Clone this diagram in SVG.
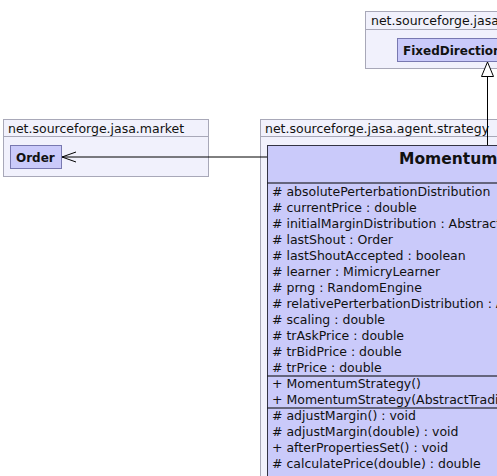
<svg xmlns="http://www.w3.org/2000/svg" width="497" height="476" viewBox="0 0 497 476">
<defs>
<style>
.pkg{fill:#F1F1FC;stroke:#A8A8B8;stroke-width:1}
.cls{fill:#CACAFA;stroke:#7878B0;stroke-width:1}
.main{fill:#CACAFA;stroke:#333344;stroke-width:1}
.div{stroke:#000;stroke-width:1.2}
text{font-family:"DejaVu Sans",sans-serif;fill:#111}
.lbl{font-size:12.5px}
.name{font-size:12px;font-weight:bold}
.big{font-size:15.5px;font-weight:bold}
.m{font-size:12.5px}
.edge{stroke:#000;stroke-width:1;fill:none}
</style>
</defs>
<g id="pkg-top">
<rect class="pkg" x="365.5" y="11.5" width="200" height="57"/>
<line x1="365.5" y1="29.5" x2="565.5" y2="29.5" stroke="#A8A8B8"/>
<text class="lbl" x="371" y="25">net.sourceforge.jasa.agent</text>
</g>
<g id="FixedDirection">
<rect class="cls" x="397.5" y="38.5" width="160" height="23"/>
<text class="name" x="403" y="54.5">FixedDirectionStrategy</text>
</g>
<g id="pkg-market">
<rect class="pkg" x="3.5" y="119.5" width="205" height="57"/>
<line x1="3.5" y1="136.5" x2="208.5" y2="136.5" stroke="#A8A8B8"/>
<text class="lbl" x="8" y="132.5">net.sourceforge.jasa.market</text>
</g>
<g id="Order">
<rect class="cls" x="10.5" y="145.5" width="51" height="23"/>
<text class="name" x="16" y="161.5">Order</text>
</g>
<g id="pkg-strategy">
<rect class="pkg" x="260.5" y="119.5" width="400" height="400"/>
<line x1="260.5" y1="136.5" x2="660.5" y2="136.5" stroke="#A8A8B8"/>
<text class="lbl" x="265" y="132.5">net.sourceforge.jasa.agent.strategy</text>
</g>
<g id="MomentumStrategy">
<rect class="main" x="267.5" y="145.5" width="400" height="400"/>
<text class="big" x="399" y="164">MomentumStrategy</text>
<line class="div" x1="267.5" y1="183" x2="667.5" y2="183"/>
<text class="m" x="272" y="196">#  absolutePerterbationDistribution</text>
<text class="m" x="272" y="212"># currentPrice : double</text>
<text class="m" x="272" y="228"># initialMarginDistribution : AbstractC</text>
<text class="m" x="272" y="244"># lastShout : Order</text>
<text class="m" x="272" y="260"># lastShoutAccepted : boolean</text>
<text class="m" x="272" y="276"># learner : MimicryLearner</text>
<text class="m" x="272" y="292"># prng : RandomEngine</text>
<text class="m" x="272" y="308"># relativePerterbationDistribution : A</text>
<text class="m" x="272" y="324"># scaling : double</text>
<text class="m" x="272" y="340"># trAskPrice : double</text>
<text class="m" x="272" y="356"># trBidPrice : double</text>
<text class="m" x="272" y="372"># trPrice : double</text>
<line class="div" x1="267.5" y1="376" x2="667.5" y2="376"/>
<text class="m" x="272" y="388">+ MomentumStrategy()</text>
<text class="m" x="272" y="404">+ MomentumStrategy(AbstractTradi</text>
<line class="div" x1="267.5" y1="408" x2="667.5" y2="408"/>
<text class="m" x="272" y="420"># adjustMargin() : void</text>
<text class="m" x="272" y="436"># adjustMargin(double) : void</text>
<text class="m" x="272" y="452">+ afterPropertiesSet() : void</text>
<text class="m" x="272" y="468"># calculatePrice(double) : double</text>
</g>
<g id="connectors">
<line class="edge" x1="62" y1="157" x2="267" y2="157"/>
<polyline class="edge" points="76,152 62,157 76,162"/>
<line class="edge" x1="487.5" y1="76" x2="487.5" y2="145"/>
<polygon points="487.5,62 481.5,76.5 493.5,76.5" fill="#fff" stroke="#000" stroke-width="1"/>
</g>
</svg>
